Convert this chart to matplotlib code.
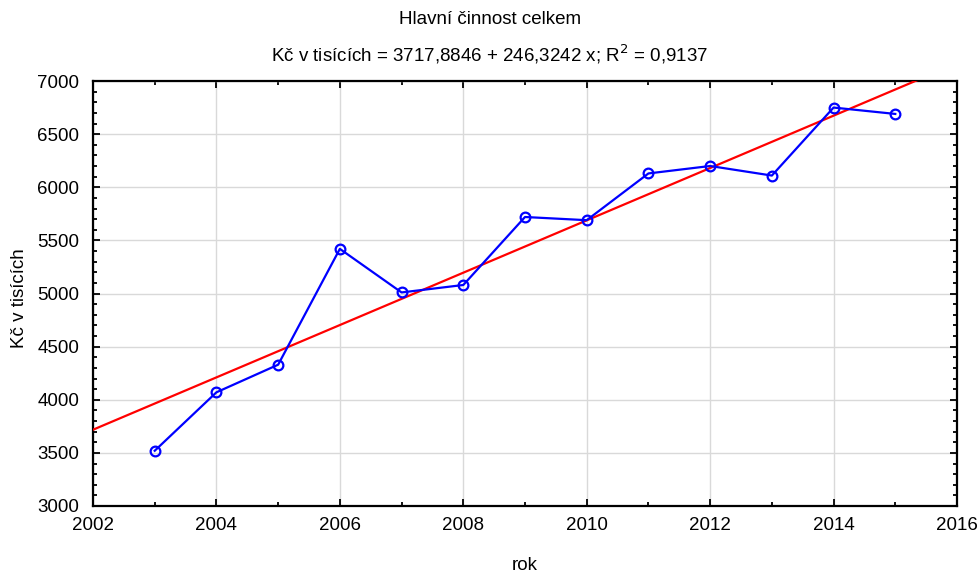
import matplotlib
matplotlib.use("Agg")
import matplotlib.pyplot as plt
import numpy as np
from matplotlib.ticker import MultipleLocator

plt.rcParams['font.family'] = ['Liberation Sans', 'DejaVu Sans']

years = [2003, 2004, 2005, 2006, 2007, 2008, 2009, 2010, 2011, 2012, 2013, 2014, 2015]
values = [3520, 4070, 4330, 5420, 5010, 5080, 5720, 5690, 6130, 6200, 6110, 6750, 6690]
intercept = 3717.8846
slope = 246.3242
base_year = 2002

title = "Hlavní činnost celkem"
subtitle = "Kč v tisících = 3717,8846 + 246,3242 x; R$^2$ = 0,9137"
xlabel = "rok"
ylabel = "Kč v tisících"

fs = 13.5
fig = plt.figure(figsize=(9.8, 5.75), dpi=100)
ax = fig.add_axes([93/980, 1-506/575, (957-93)/980, (506-81)/575])

xs = np.array([2002, 2016])
ax.plot(xs, intercept + slope*(xs - base_year), color='red', lw=1.6, zorder=3)
ax.plot(years, values, color='blue', lw=1.6, marker='o', markersize=7,
        markerfacecolor='none', markeredgecolor='blue', markeredgewidth=1.6, zorder=4)

ax.set_xlim(2002, 2016)
ax.set_ylim(3000, 7000)
ax.xaxis.set_major_locator(MultipleLocator(2))
ax.xaxis.set_minor_locator(MultipleLocator(1))
ax.yaxis.set_major_locator(MultipleLocator(500))
ax.yaxis.set_minor_locator(MultipleLocator(100))
ax.grid(True, which='major', color='#d9d9d9', lw=1)
ax.set_axisbelow(True)
ax.tick_params(which='both', direction='in', top=True, right=True, labelsize=fs, width=1.3)
ax.tick_params(which='major', length=5)
ax.tick_params(which='minor', length=3)
ax.tick_params(axis='y', pad=10)
ax.tick_params(axis='x', pad=8)
for s in ax.spines.values():
    s.set_linewidth(1.6)

fig.text(525/980, 1-565/575, xlabel, ha='center', va='center', fontsize=fs)
fig.text(19/980, 1-298/575, ylabel, ha='center', va='center', fontsize=fs, rotation=90)

fig.text(0.5, 1-20/575, title, ha='center', va='center', fontsize=fs)
fig.text(0.5, 1-54/575, subtitle, ha='center', va='center', fontsize=fs)

fig.savefig("out.png", dpi=100)
